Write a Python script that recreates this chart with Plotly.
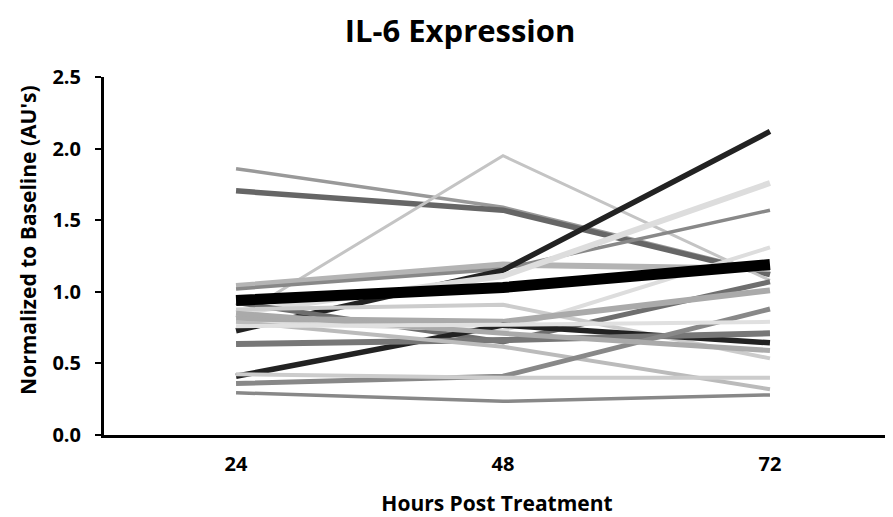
import plotly.graph_objects as go

hours = [24, 48, 72]
tick_vals = [0.0, 0.5, 1.0, 1.5, 2.0, 2.5]
tick_text = ["0.0", "0.5", "1.0", "1.5", "2.0", "2.5"]

s01 = [1.86, 1.59, 1.13]
s02 = [1.705, 1.57, 1.12]
s03 = [0.82, 1.95, 1.08]
s04 = [1.04, 1.19, 1.16]
s05 = [1.02, 1.16, 1.57]
s06 = [0.728, 1.15, 2.12]
s07 = [0.853, 1.11, 1.76]
s08 = [0.925, 0.65, 1.07]
s09 = [0.877, 0.91, 0.535]
s10 = [0.79, 0.73, 1.31]
s11 = [0.814, 0.79, 1.01]
s12 = [0.41, 0.767, 0.644]
s13 = [0.635, 0.663, 0.71]
s14 = [0.79, 0.616, 0.32]
s15 = [0.36, 0.41, 0.88]
s16 = [0.425, 0.40, 0.40]
s17 = [0.295, 0.235, 0.28]
s18 = [0.85, 0.71, 0.59]
s19 = [0.76, 0.77, 0.79]
mean_vals = [0.94, 1.03, 1.19]

series = [s01, s02, s03, s04, s05, s06, s07, s08, s09, s10,
          s11, s12, s13, s14, s15, s16, s17, s18, s19]
colors = ["#999999", "#666666", "#c4c4c4", "#b4b4b4", "#888888", "#222222",
          "#dddddd", "#6e6e6e", "#cccccc", "#dddddd", "#aaaaaa", "#222222",
          "#777777", "#bbbbbb", "#888888", "#cccccc", "#888888", "#aaaaaa",
          "#e0e0e0"]
widths = [3.5, 5.5, 3, 6, 3.5, 5.5, 6, 5, 4, 4, 6, 5.5, 6, 4, 5, 4, 3.5, 5, 4]

fig = go.Figure()
for vals, c, w in zip(series, colors, widths):
    fig.add_trace(go.Scatter(x=hours, y=vals, mode="lines",
                             line=dict(color=c, width=w), hoverinfo="skip"))
fig.add_trace(go.Scatter(x=hours, y=mean_vals, mode="lines",
                         line=dict(color="#000000", width=11), hoverinfo="skip"))

font_family = "Open Sans, Lato, sans-serif"
fig.update_layout(
    width=885, height=509,
    margin=dict(l=96, r=3, t=69, b=82),
    paper_bgcolor="white", plot_bgcolor="white",
    showlegend=False,
    title=dict(text="<b>IL-6 Expression</b>", x=0.453, xanchor="center",
               xref="paper", yref="container",
               y=0.954, yanchor="middle",
               font=dict(family=font_family, size=31, color="#000000")),
    font=dict(family=font_family, color="#000000"),
    annotations=[dict(text="<b>Normalized to Baseline (AU's)</b>",
                      xref="paper", yref="paper", x=-0.0967, y=0.545,
                      xanchor="center", yanchor="middle", textangle=-90,
                      showarrow=False,
                      font=dict(size=21, family=font_family, color="#000"))],
)
fig.update_xaxes(
    range=[12.13, 82.79], tickmode="array", tickvals=hours,
    ticktext=["<b>%d</b>" % h for h in hours],
    tickfont=dict(size=20, family=font_family, color="#000"),
    showgrid=False, zeroline=False, showline=True, linecolor="#000",
    linewidth=3, ticks="", ticklabelstandoff=9, automargin=False,
    title=dict(text="<b>Hours Post Treatment</b>", standoff=26,
               font=dict(size=21, family=font_family, color="#000")),
)
fig.update_yaxes(
    range=[0, 2.5], tickmode="array", tickvals=tick_vals,
    ticktext=["<b>%s</b>" % t for t in tick_text],
    tickfont=dict(size=20, family=font_family, color="#000"),
    showgrid=False, zeroline=False, showline=True, linecolor="#000",
    linewidth=3, ticks="outside", ticklen=6, tickwidth=2, tickcolor="#000",
    ticklabelstandoff=10, automargin=False,
)

fig.write_html("out.html")
